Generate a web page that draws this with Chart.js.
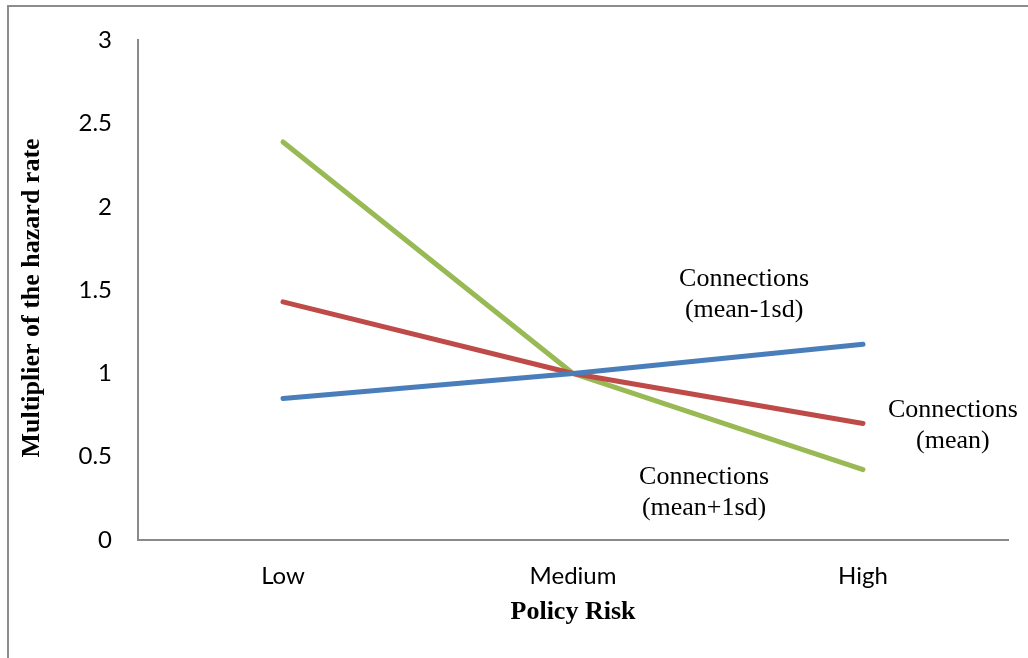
<!DOCTYPE html>
<html>
<head>
<meta charset="utf-8">
<script src="https://cdn.jsdelivr.net/npm/chart.js@4/dist/chart.umd.min.js"></script>
<style>
  html, body { margin: 0; padding: 0; background: #fff; }
  #wrap { width: 1028px; height: 658px; position: relative; }
</style>
</head>
<body>
<div id="wrap"><canvas id="c" width="1028" height="658"></canvas></div>
<script>
// Policy risk levels on the x axis
const categories = ['Low', 'Medium', 'High'];

// Multiplier of the hazard rate for each level of political connections
const meanMinus1sd = [0.85, 1.0, 1.175];
const meanConn     = [1.43, 1.0, 0.70];
const meanPlus1sd  = [2.39, 1.0, 0.423];

const seriesNames = ['Connections (mean-1sd)', 'Connections (mean)', 'Connections (mean+1sd)'];

// Y axis tick values and their printed labels
const yTicks = [0, 0.5, 1, 1.5, 2, 2.5, 3];
const yTickLabels = ['0', '0.5', '1', '1.5', '2', '2.5', '3'];

// Line labels placed next to each series (x as category index, y in data units)
const lineLabels = [
  { lines: ['Connections', '(mean-1sd)'], x: 1.59, y: 1.475 },
  { lines: ['Connections', '(mean)'],     x: 2.31, y: 0.6875 },
  { lines: ['Connections', '(mean+1sd)'], x: 1.452, y: 0.283 }
];

const serif = '"Liberation Serif", "Times New Roman", serif';
const sans = 'Lato, "Open Sans", sans-serif';

// Frame on the left and top edges plus the rotated y title and line labels
const decorations = {
  id: 'decorations',
  afterDraw(chart) {
    const ctx = chart.ctx;
    const xs = chart.scales.x, ys = chart.scales.y;
    ctx.save();
    ctx.strokeStyle = '#8c8c8c';
    ctx.lineWidth = 2;
    ctx.beginPath();
    ctx.moveTo(8, 658);
    ctx.lineTo(8, 6);
    ctx.lineTo(1028, 6);
    ctx.stroke();

    // y axis title
    ctx.fillStyle = '#000';
    ctx.font = 'bold 26px ' + serif;
    ctx.textAlign = 'center';
    ctx.textBaseline = 'middle';
    ctx.translate(32, 298);
    ctx.rotate(-Math.PI / 2);
    ctx.fillText('Multiplier of the hazard rate', 0, 0);
    ctx.restore();

    ctx.save();
    ctx.fillStyle = '#000';
    ctx.font = '26px ' + serif;
    ctx.textAlign = 'center';
    ctx.textBaseline = 'middle';
    const lh = 31;
    lineLabels.forEach(l => {
      const px = xs.getPixelForValue(l.x);
      const py = ys.getPixelForValue(l.y);
      const y0 = py - (l.lines.length - 1) * lh / 2;
      l.lines.forEach((t, i) => ctx.fillText(t, px, y0 + i * lh));
    });
    ctx.restore();
  }
};

const lineStyle = (label, data, color) => ({
  label, data,
  borderColor: color,
  backgroundColor: color,
  borderWidth: 5,
  borderCapStyle: 'round',
  borderJoinStyle: 'round',
  pointRadius: 0,
  pointHoverRadius: 0,
  tension: 0,
  fill: false
});

new Chart(document.getElementById('c'), {
  type: 'line',
  data: {
    labels: categories,
    datasets: [
      lineStyle(seriesNames[0], meanMinus1sd, '#4A7EBB'),
      lineStyle(seriesNames[1], meanConn, '#BE4B48'),
      lineStyle(seriesNames[2], meanPlus1sd, '#98B954')
    ]
  },
  options: {
    responsive: false,
    animation: false,
    devicePixelRatio: 1,
    layout: { padding: { left: 8, top: 36, right: 20, bottom: 0 } },
    plugins: {
      legend: { display: false },
      tooltip: { enabled: false }
    },
    scales: {
      x: {
        type: 'category',
        offset: true,
        grid: { display: false, drawTicks: false },
        border: { display: true, color: '#8a8a8a', width: 2 },
        ticks: { color: '#000', font: { family: sans, size: 24 }, padding: 22 },
        title: {
          display: true,
          text: 'Policy Risk',
          color: '#000',
          font: { family: serif, size: 26, weight: 'bold' },
          padding: { top: 0, bottom: 30 }
        },
        afterFit(scale) { scale.height = 118; }
      },
      y: {
        min: 0,
        max: 3,
        afterBuildTicks(scale) { scale.ticks = yTicks.map(v => ({ value: v })); },
        grid: { display: false, drawTicks: false },
        border: { display: true, color: '#8a8a8a', width: 2 },
        ticks: {
          color: '#000',
          font: { family: sans, size: 24 },
          padding: 26,
          callback: (v) => yTickLabels[yTicks.indexOf(v)]
        },
        afterFit(scale) { scale.width = 130; }
      }
    }
  },
  plugins: [decorations]
});
</script>
</body>
</html>
